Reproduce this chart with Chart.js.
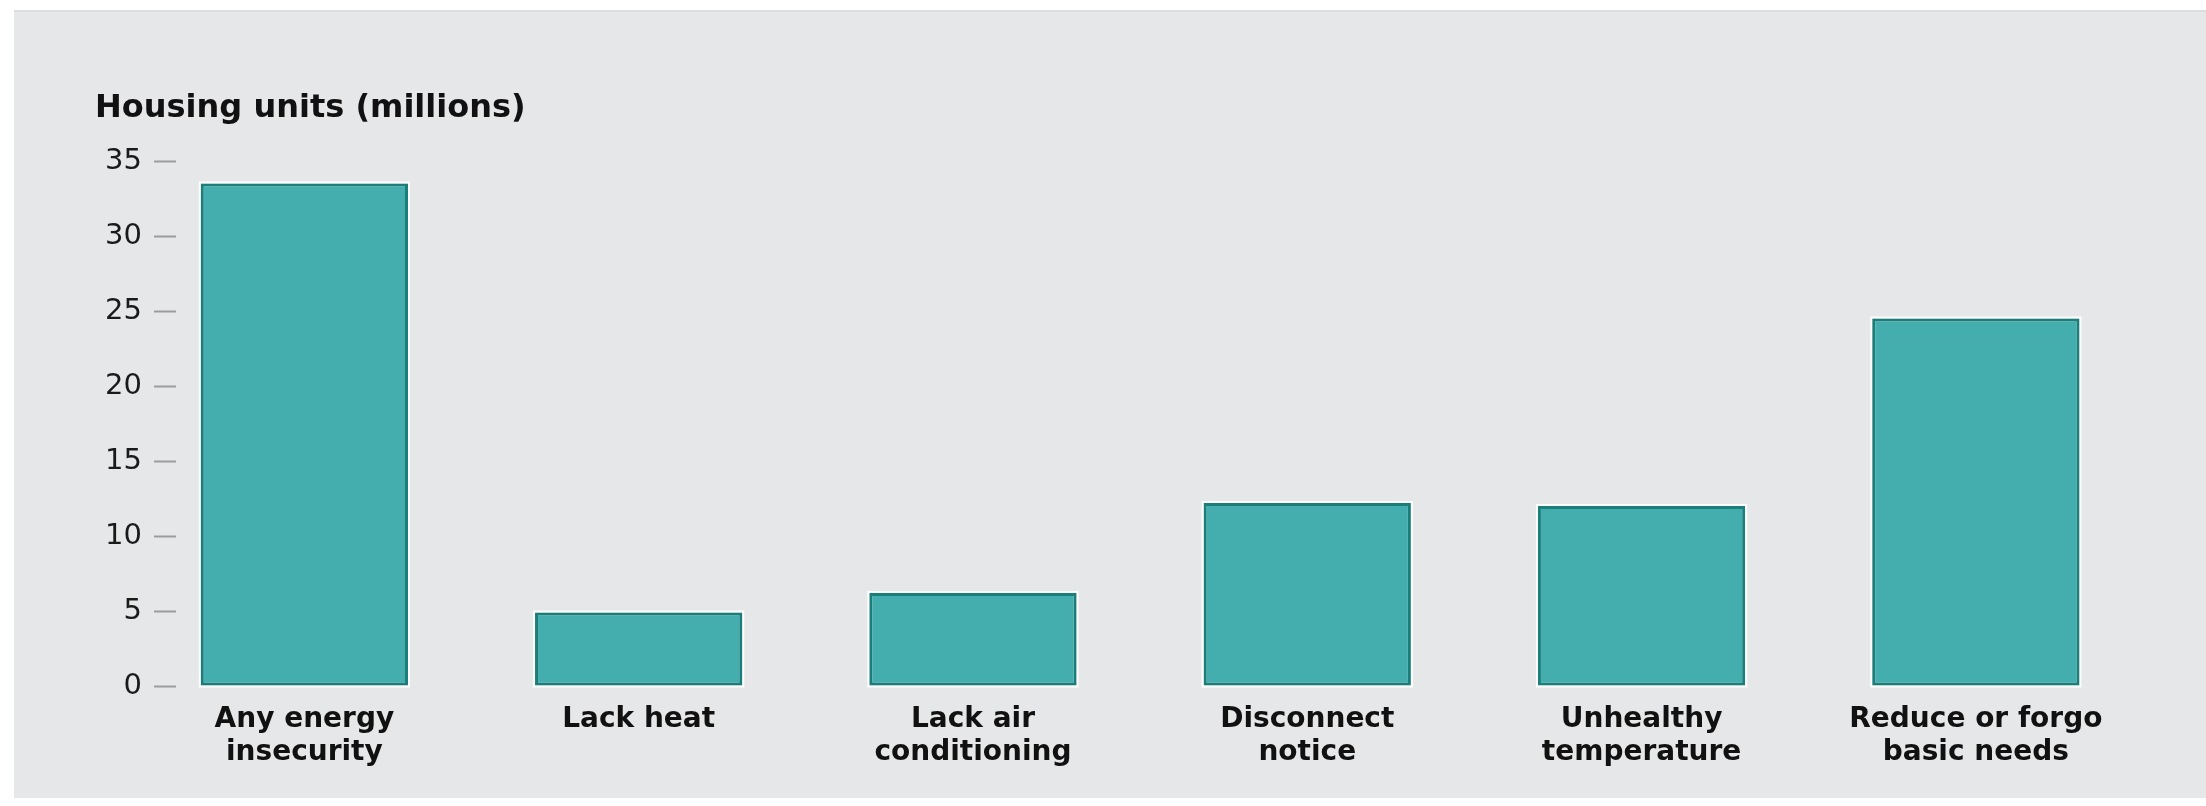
<!DOCTYPE html>
<html>
<head>
<meta charset="utf-8">
<title>Housing units (millions)</title>
<script src="https://cdn.jsdelivr.net/npm/chart.js@4.4.1/dist/chart.umd.min.js"></script>
<style>
  html, body { margin: 0; padding: 0; background: #ffffff; }
  #chart { display: block; }
</style>
</head>
<body>
<canvas id="chart" width="2206" height="806"></canvas>
<script>
const CATEGORIES = [
  ['Any energy', 'insecurity'],
  ['Lack heat'],
  ['Lack air', 'conditioning'],
  ['Disconnect', 'notice'],
  ['Unhealthy', 'temperature'],
  ['Reduce or forgo', 'basic needs']
];
const UNITS_MILLIONS = [33.5, 4.9, 6.2, 12.2, 12.0, 24.5];
const Y_TICKS = [0, 5, 10, 15, 20, 25, 30, 35];
const AXIS_TITLE = 'Housing units (millions)';

const FONT = '"DejaVu Sans", "Liberation Sans", sans-serif';

// grey panel behind everything plus the axis title
const panelPlugin = {
  id: 'panel',
  beforeDraw(chart) {
    const { ctx, width, height } = chart;
    ctx.save();
    ctx.fillStyle = '#dcdde0';
    ctx.fillRect(14, 10, width - 14, 2);
    ctx.fillStyle = '#e6e7e9';
    ctx.fillRect(14, 12, width - 14, height - 20);
    ctx.restore();
  },
  afterDraw(chart) {
    const { ctx } = chart;
    ctx.save();
    ctx.font = `bold 32px ${FONT}`;
    ctx.fillStyle = '#111111';
    ctx.textBaseline = 'alphabetic';
    ctx.fillText(AXIS_TITLE, 95, 117);
    ctx.restore();
  }
};

// thin white outline round each bar
const outlinePlugin = {
  id: 'outline',
  beforeDatasetsDraw(chart) {
    const ctx = chart.ctx;
    ctx.save();
    ctx.strokeStyle = 'rgba(255,255,255,0.9)';
    ctx.lineWidth = 2;
    chart.getDatasetMeta(0).data.forEach(bar => {
      const { x, y, base, width } = bar.getProps(['x', 'y', 'base', 'width'], true);
      ctx.strokeRect(x - width / 2 - 1, y - 1, width + 2, base - y + 2);
    });
    ctx.restore();
  }
};

function init() {
  new Chart(document.getElementById('chart'), {
    type: 'bar',
    data: {
      datasets: [{
        data: UNITS_MILLIONS.map((v, i) => ({ x: i, y: v })),
        backgroundColor: '#44adad',
        borderColor: '#1a7e7b',
        borderWidth: 3,
        borderSkipped: false,
        categoryPercentage: 1,
        barPercentage: 0.62
      }]
    },
    options: {
      responsive: false,
      devicePixelRatio: 1,
      animation: false,
      layout: { padding: { top: 161, right: 63, bottom: 20, left: 0 } },
      plugins: {
        legend: { display: false },
        tooltip: { enabled: false }
      },
      scales: {
        x: {
          type: 'linear',
          offset: false,
          min: -0.384,
          max: 5.5,
          afterBuildTicks: scale => {
            scale.ticks = CATEGORIES.map((c, i) => ({ value: i }));
          },
          afterFit: scale => { scale.height = 100; },
          grid: { display: false },
          border: { display: false },
          ticks: {
            autoSkip: false,
            maxRotation: 0,
            padding: 10,
            color: '#111111',
            font: { family: FONT, size: 28, weight: 'bold', lineHeight: 1.15 },
            callback: value => CATEGORIES[value]
          }
        },
        y: {
          min: 0,
          max: 35,
          afterBuildTicks: scale => {
            scale.ticks = Y_TICKS.map(v => ({ value: v }));
          },
          afterFit: scale => { scale.width = 176; },
          grid: {
            drawOnChartArea: false,
            drawTicks: true,
            tickLength: 22,
            tickColor: '#9b9c9e',
            tickWidth: 2
          },
          border: { display: false },
          ticks: {
            padding: 12,
            color: '#1a1a1a',
            font: { family: FONT, size: 29 }
          }
        }
      }
    },
    plugins: [panelPlugin, outlinePlugin]
  });
}

document.addEventListener('DOMContentLoaded', init);
</script>
</body>
</html>
